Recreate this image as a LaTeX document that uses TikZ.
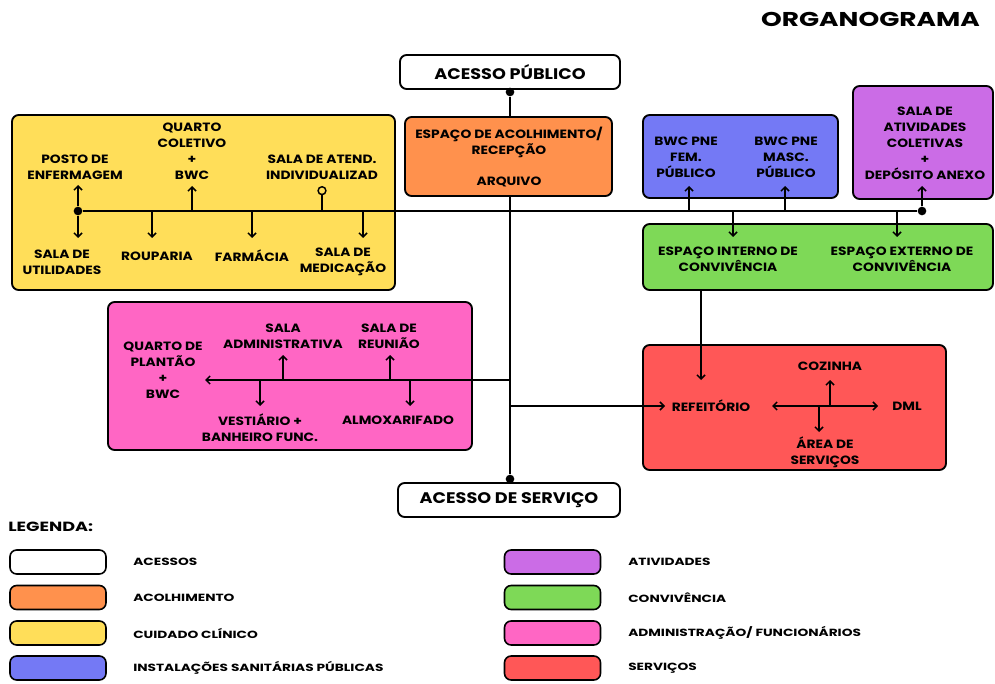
\documentclass[tikz,border=0pt]{standalone}
\usepackage{fontspec}
\setmainfont{Poppins}[FakeStretch=1.15]
\newfontfamily\largafont{Poppins}[FakeStretch=1.32]
\usetikzlibrary{arrows.meta}

\definecolor{acolh}{HTML}{FF914D}
\definecolor{clinico}{HTML}{FFDE59}
\definecolor{sanit}{HTML}{7479F5}
\definecolor{ativ}{HTML}{CB6CE6}
\definecolor{conviv}{HTML}{7ED957}
\definecolor{admin}{HTML}{FF66C4}
\definecolor{servic}{HTML}{FF5757}

\begin{document}
\begin{tikzpicture} %Organograma
  [x=0.75pt, y=-0.75pt,
   box/.style={draw, line width=1.4pt, rounded corners=5pt},
   acesso/.style={box, fill=white, minimum height=25.5pt, font=\fontsize{11.5}{14}\selectfont\bfseries},
   lbl/.style={align=center, inner sep=0pt, font=\fontsize{9}{12}\selectfont\bfseries},
   leg/.style={box, line width=1.2pt, minimum width=72pt, minimum height=18pt},
   legtxt/.style={anchor=west, inner sep=0pt, font=\largafont\fontsize{7.8}{10}\selectfont\bfseries},
   link/.style={line width=1.1pt},
   arr/.style={link, -{Straight Barb[length=3pt,width=6pt]}},
   darr/.style={link, {Straight Barb[length=3pt,width=6pt]}-{Straight Barb[length=3pt,width=6pt]}},
   dot/.style={circle, fill, inner sep=0pt, minimum size=6.5pt}]
  \useasboundingbox (0,0) rectangle (995,684);

  \node[anchor=east, inner sep=0pt, font=\largafont\fontsize{15}{18}\selectfont\bfseries] (titulo) at (980,19) {ORGANOGRAMA};

  % acessos
  \node[acesso, minimum width=165pt] (pub) at (510,72) {ACESSO PÚBLICO};
  \node[acesso, minimum width=166.5pt] (srv) at (509,500) {ACESSO DE SERVIÇO};
  \node[dot] (dTop) at (510,92) {};
  \node[dot] (dBot) at (510,479) {};
  \draw[link] (dTop) -- (dBot);

  % grupos
  \node[box, fill=clinico, minimum width=287.25pt, minimum height=131.25pt] (gClin) at (203.5,202.5) {};
  \node[box, fill=acolh, minimum width=155.25pt, minimum height=59.25pt] (gAcolh) at (508.5,156.5) {};
  \node[box, fill=sanit, minimum width=146.25pt, minimum height=62.25pt] (gSanit) at (740.5,156.5) {};
  \node[box, fill=ativ, minimum width=105pt, minimum height=84.75pt] (gAtiv) at (923,142.5) {};
  \node[box, fill=conviv, minimum width=262.5pt, minimum height=49.5pt] (gConv) at (818,257) {};
  \node[box, fill=admin, minimum width=273pt, minimum height=111pt] (gAdm) at (290,376) {};
  \node[box, fill=servic, minimum width=227.25pt, minimum height=93.75pt] (gServ) at (794.5,407.5) {};

  \node[lbl] (acolh) at (509,157) {ESPAÇO DE ACOLHIMENTO/\\RECEPÇÃO\\[11pt]ARQUIVO};

  % cuidado clinico
  \node[lbl] (posto) at (75,167) {POSTO DE\\ENFERMAGEM};
  \node[lbl] (quarto) at (192,151) {QUARTO\\COLETIVO\\+\\BWC};
  \node[lbl] (atend) at (322,167) {SALA DE ATEND.\\INDIVIDUALIZAD};
  \node[lbl] (utilid) at (62,262) {SALA DE\\UTILIDADES};
  \node[lbl] (roup) at (157,256) {ROUPARIA};
  \node[lbl] (farm) at (252,256) {FARMÁCIA};
  \node[lbl] (medic) at (343,262) {SALA DE\\MEDICAÇÃO};

  % sanitarios, atividades, convivencia
  \node[lbl] (fem) at (686,157) {BWC PNE\\FEM.\\PÚBLICO};
  \node[lbl] (masc) at (786,157) {BWC PNE\\MASC.\\PÚBLICO};
  \node[lbl] (ativ) at (925,143) {SALA DE\\ATIVIDADES\\COLETIVAS\\+\\DEPÓSITO ANEXO};
  \node[lbl] (interno) at (728,259) {ESPAÇO INTERNO DE\\CONVIVÊNCIA};
  \node[lbl] (externo) at (902,259) {ESPAÇO EXTERNO DE\\CONVIVÊNCIA};

  % administracao
  \node[lbl] (plantao) at (163,370) {QUARTO DE\\PLANTÃO\\+\\BWC};
  \node[lbl] (sadm) at (283,336) {SALA\\ADMINISTRATIVA};
  \node[lbl] (reun) at (389,336) {SALA DE\\REUNIÃO};
  \node[lbl] (vest) at (260,428) {VESTIÁRIO +\\BANHEIRO FUNC.};
  \node[lbl] (almox) at (398,420) {ALMOXARIFADO};

  % servicos
  \node[lbl] (ref) at (711,406) {REFEITÓRIO};
  \node[lbl] (coz) at (830,366) {COZINHA};
  \node[lbl] (dml) at (907,406) {DML};
  \node[lbl] (area) at (825,452) {ÁREA DE\\SERVIÇOS};

  % barramento superior
  \node[dot] (dClin) at (78,211) {};
  \node[dot] (dAtiv) at (922,211) {};
  \draw[link] (dClin) -- (dAtiv);
  \draw[arr] (dClin) -- (78,185);
  \draw[arr] (dClin) -- (78,238);
  \draw[arr] (152,211) -- (152,238);
  \draw[arr] (192,211) -- (192,186);
  \draw[arr] (252,211) -- (252,238);
  \draw[link, -{Circle[open, length=7pt, width=7pt]}] (322,211) -- (322,186);
  \draw[arr] (363,211) -- (363,238);
  \draw[arr] (689,211) -- (689,186);
  \draw[arr] (785,211) -- (785,186);
  \draw[arr] (dAtiv) -- (922,186);
  \draw[arr] (733,211) -- (733,237);
  \draw[arr] (897,211) -- (897,237);

  % administracao
  \coordinate (tAdm) at (510,380);
  \draw[arr] (tAdm) -- (205,380);
  \draw[arr] (283,380) -- (283,355);
  \draw[arr] (390,380) -- (390,355);
  \draw[arr] (260,380) -- (260,406);
  \draw[arr] (410,380) -- (410,406);

  % servicos
  \coordinate (tServ) at (510,406);
  \draw[arr] (tServ) -- (665,406);
  \draw[arr] (gConv.south -| 701,0) -- (701,380);
  \draw[darr] (772,406) -- (878,406);
  \draw[arr] (830,406) -- (830,380);
  \draw[arr] (819,406) -- (819,432);

  % legenda
  \node[anchor=west, inner sep=0pt, font=\largafont\fontsize{10}{12}\selectfont\bfseries] (legenda) at (8,527) {LEGENDA:};
  \node[leg, fill=white] (lA) at (58,562) {};
  \node[leg, fill=acolh] (lB) at (58,597.5) {};
  \node[leg, fill=clinico] (lC) at (58,633) {};
  \node[leg, fill=sanit] (lD) at (58,668) {};
  \node[leg, fill=ativ] (lE) at (552.5,562) {};
  \node[leg, fill=conviv] (lF) at (552.5,597.5) {};
  \node[leg, fill=admin] (lG) at (552.5,633) {};
  \node[leg, fill=servic] (lH) at (552.5,668) {};
  \node[legtxt] (tA) at (133,562) {ACESSOS};
  \node[legtxt] (tB) at (133,597.5) {ACOLHIMENTO};
  \node[legtxt] (tC) at (133,633) {CUIDADO CLÍNICO};
  \node[legtxt] (tD) at (133,668) {INSTALAÇÕES SANITÁRIAS PÚBLICAS};
  \node[legtxt] (tE) at (628,562) {ATIVIDADES};
  \node[legtxt] (tF) at (628,597.5) {CONVIVÊNCIA};
  \node[legtxt] (tG) at (628,633) {ADMINISTRAÇÃO/ FUNCIONÁRIOS};
  \node[legtxt] (tH) at (628,668) {SERVIÇOS};
\end{tikzpicture}
\end{document}
